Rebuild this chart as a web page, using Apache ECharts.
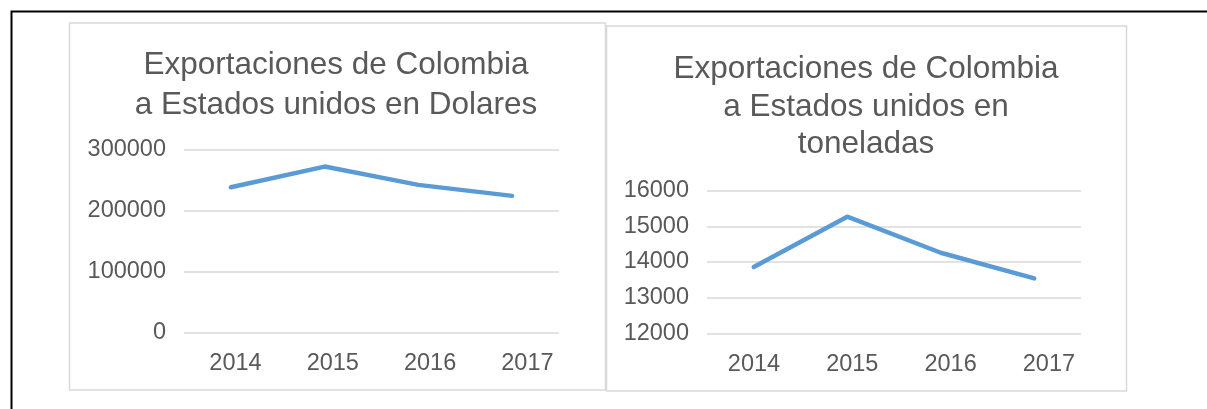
<!DOCTYPE html>
<html><head><meta charset="utf-8">
<script src="https://cdn.jsdelivr.net/npm/echarts@6/dist/echarts.min.js"></script>
<style>html,body{margin:0;padding:0;background:#fff;}#c{width:1207px;height:409px;}</style>
</head><body><div id="c"></div>
<script>
var years = ['2014', '2015', '2016', '2017'];
var dolares = [238000, 272000, 242000, 224000];
var toneladas = [13860, 15270, 14260, 13540];
var titleLeft = 'Exportaciones de Colombia\na Estados unidos en Dolares';
var titleRight = 'Exportaciones de Colombia\na Estados unidos en\ntoneladas';

var FONT = '"Liberation Sans", Arial, sans-serif';
var GREY = '#595959';
var GRID = '#d9d9d9';
var BLUE = '#5b9bd5';

var chart = echarts.init(document.getElementById('c'), null, {renderer: 'canvas'});

function yAxis(idx, min, max, interval) {
  return {
    type: 'value', gridIndex: idx, min: min, max: max, interval: interval,
    axisLine: {show: false}, axisTick: {show: false},
    axisLabel: {color: GREY, fontSize: 23.5, fontFamily: FONT, margin: 18,
                formatter: function (v) { return String(v); }},
    splitLine: {show: true, lineStyle: {color: GRID, width: 1.5}}
  };
}
function hiddenY(idx) {
  return {type: 'value', gridIndex: idx, min: 0, max: 1, show: false};
}
function xAxis(idx, showLabel) {
  return {
    type: 'category', gridIndex: idx, data: years, boundaryGap: true,
    axisLine: {show: false}, axisTick: {show: false},
    axisLabel: {show: showLabel, color: GREY, fontSize: 23.5, fontFamily: FONT, margin: 19},
    splitLine: {show: false}
  };
}

chart.setOption({
  animation: false,
  backgroundColor: '#fff',
  graphic: [
    {type: 'polyline', shape: {points: [[11.5, 409], [11.5, 11.5], [1207, 11.5]]}, style: {stroke: '#000', lineWidth: 2, fill: null}},
    {type: 'rect', shape: {x: 69.5, y: 23, width: 536, height: 367}, style: {stroke: GRID, lineWidth: 1.5, fill: null}},
    {type: 'rect', shape: {x: 606.5, y: 26, width: 520, height: 365}, style: {stroke: GRID, lineWidth: 1.5, fill: null}}
  ],
  title: [
    {text: titleLeft, left: 336, top: 46, padding: 0, textAlign: 'center',
     textStyle: {color: GREY, fontSize: 31.5, fontWeight: 'normal', fontFamily: FONT, lineHeight: 39.5, align: 'center'}},
    {text: titleRight, left: 866, top: 51, padding: 0, textAlign: 'center',
     textStyle: {color: GREY, fontSize: 31.5, fontWeight: 'normal', fontFamily: FONT, lineHeight: 37.5, align: 'center'}}
  ],
  grid: [
    {left: 184, top: 149.5, width: 375, height: 183, containLabel: false},
    {left: 707, top: 190.7, width: 374, height: 142.6, containLabel: false},
    {left: 186.8, top: 149.5, width: 389.3, height: 183, containLabel: false},
    {left: 704.8, top: 190.7, width: 393.3, height: 142.6, containLabel: false}
  ],
  xAxis: [xAxis(0, false), xAxis(1, false), xAxis(2, true), xAxis(3, true)],
  yAxis: [yAxis(0, 0, 300000, 100000), yAxis(1, 12000, 16000, 1000), hiddenY(2), hiddenY(3)],
  series: [
    {type: 'line', xAxisIndex: 0, yAxisIndex: 0, data: dolares, showSymbol: false, symbol: 'none',
     lineStyle: {color: BLUE, width: 4.5, cap: 'round', join: 'round'}},
    {type: 'line', xAxisIndex: 1, yAxisIndex: 1, data: toneladas, showSymbol: false, symbol: 'none',
     lineStyle: {color: BLUE, width: 4.5, cap: 'round', join: 'round'}}
  ]
});
</script></body></html>
